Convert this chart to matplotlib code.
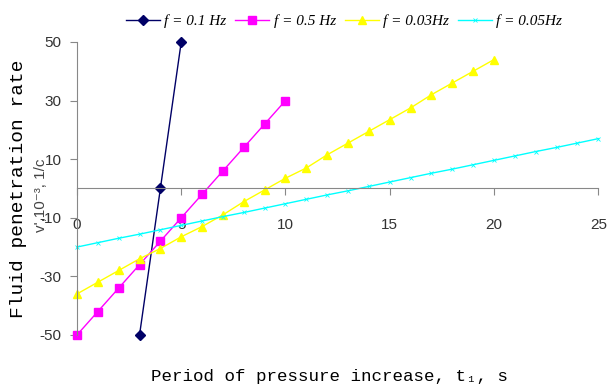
import matplotlib
matplotlib.use('Agg')
import matplotlib.pyplot as plt

plt.rcParams['axes.unicode_minus'] = False

# data
t_01 = [3, 4, 5]
v_01 = [-50, 0, 50]

t_05 = [0, 1, 2, 3, 4, 5, 6, 7, 8, 9, 10]
v_05 = [-50, -42, -34, -26, -18, -10, -2, 6, 14, 22, 30]

t_003 = list(range(0, 21))
v_003 = [-36, -32, -28, -24, -20.5, -16.5, -13, -9, -4.5, -0.5, 3.5,
         7, 11.5, 15.5, 19.5, 23.5, 27.5, 32, 36, 40, 44]

t_005 = list(range(0, 26))
v_005 = [-20, -18.5, -17, -15.6, -14.1, -12.6, -11.1, -9.6, -8.2, -6.7, -5.2,
         -3.7, -2.2, -0.8, 0.7, 2.2, 3.7, 5.2, 6.6, 8.1, 9.6,
         11.1, 12.6, 14, 15.5, 17]

labels = ['f = 0.1 Hz', 'f = 0.5 Hz', 'f = 0.03Hz', 'f = 0.05Hz']
xticks = [0, 5, 10, 15, 20, 25]
yticks = [-50, -30, -10, 10, 30, 50]

fig = plt.figure(figsize=(6.09, 3.85), dpi=100)
ax = fig.add_axes([0.1264, 0.130, 0.856, 0.761])

l1, = ax.plot(t_01, v_01, color='#000066', lw=1, marker='D', ms=5, clip_on=False)
l2, = ax.plot(t_05, v_05, color='#ff00ff', lw=1, marker='s', ms=6, clip_on=False)
l3, = ax.plot(t_003, v_003, color='#ffff00', lw=1, marker='^', ms=6, clip_on=False)
l4, = ax.plot(t_005, v_005, color='#00ffff', lw=1, marker='x', ms=2.5, mew=0.6, clip_on=False)

ax.set_xlim(0, 25)
ax.set_ylim(-50, 50)
ax.set_xticks(xticks)
ax.set_yticks(yticks)

for s in ['top', 'right']:
    ax.spines[s].set_visible(False)
ax.spines['bottom'].set_position(('data', 0))
ax.spines['bottom'].set_color('#888888')
ax.spines['left'].set_color('#888888')
ax.tick_params(axis='x', colors='#888888', length=5, labelcolor='#333333',
               labelsize=11, pad=16)
ax.tick_params(axis='y', colors='#888888', length=5, labelcolor='#333333',
               labelsize=11, pad=6)
for lab in ax.get_xticklabels() + ax.get_yticklabels():
    lab.set_family('Liberation Sans')

fig.text(0.541, 0.003, 'Period of pressure increase, t\u2081, s', family='Liberation Mono',
         fontsize=12.6, ha='center', va='bottom')

fig.text(0.030, 0.509, 'Fluid penetration rate', rotation=90, family='Liberation Mono',
         fontsize=14, ha='center', va='center')
fig.text(0.068, 0.494, "v',10\u207b\u00b3, 1/c", rotation=90,
         family=['Liberation Sans', 'DejaVu Sans'],
         fontsize=11, color='#444444', ha='center', va='center')

fig.legend([l1, l2, l3, l4], labels, loc='center', bbox_to_anchor=(0.565, 0.945),
           ncol=4, frameon=False, handlelength=2.2, handletextpad=0.3, columnspacing=0.6,
           prop={'family': 'Liberation Serif', 'style': 'italic', 'size': 11})

fig.savefig('out.png', dpi=100)
